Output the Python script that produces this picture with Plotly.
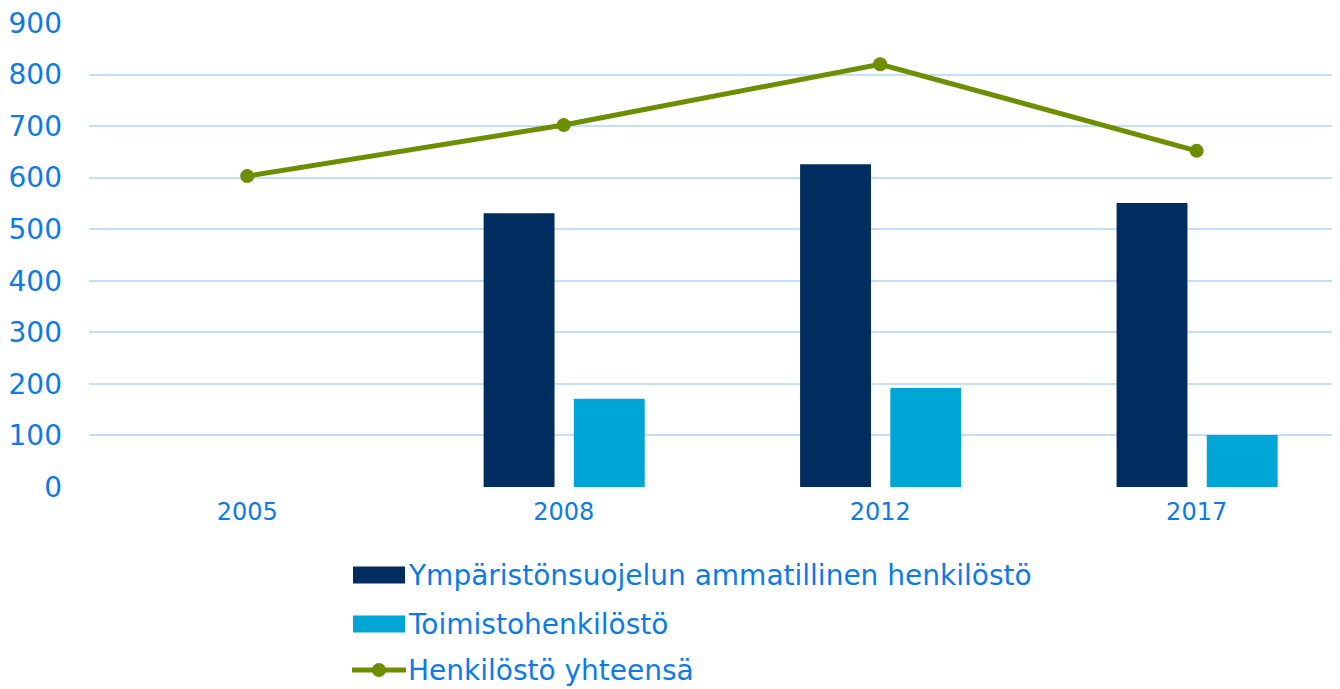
import plotly.graph_objects as go

years = ["2005", "2008", "2012", "2017"]
ammatillinen = [None, 531, 626, 551]
toimisto = [None, 171, 192, 101]
yhteensa = [603, 702, 820, 652]
y_ticks = [0, 100, 200, 300, 400, 500, 600, 700, 800, 900]
names = ["Ympäristönsuojelun ammatillinen henkilöstö", "Toimistohenkilöstö", "Henkilöstö yhteensä"]

TXT = "#0B7BEA"
FONT = "DejaVu Sans, Verdana, sans-serif"
C_DARK, C_LIGHT, C_LINE = "#002D5F", "#00A6D6", "#6C8E00"

W, H = 1332, 681
ML, MR, MT, MB = 81, 0, 15, 202
PW, PH = W - ML - MR, H - MT - MB

def px(x):
    return (x - ML) / PW

def py(y):
    return (H - MB - y) / PH

fig = go.Figure()
fig.add_trace(go.Bar(
    x=years, y=ammatillinen, name=names[0],
    marker=dict(color=C_DARK, line=dict(width=0)), width=0.224, offset=-0.253))
fig.add_trace(go.Bar(
    x=years, y=toimisto, name=names[1],
    marker=dict(color=C_LIGHT, line=dict(width=0)), width=0.224, offset=0.032))
fig.add_trace(go.Scatter(
    x=years, y=yhteensa, name=names[2], mode="lines+markers",
    line=dict(color=C_LINE, width=5), marker=dict(size=14, color=C_LINE)))

# custom legend (wide swatches like the original)
shapes = []
annotations = []
rows_y = [567, 616, 662]
for i, (nm, yc) in enumerate(zip(names, rows_y)):
    if i < 2:
        shapes.append(dict(type="rect", xref="paper", yref="paper",
                           x0=px(345), x1=px(397), y0=py(yc - 8.5), y1=py(yc + 8.5),
                           fillcolor=[C_DARK, C_LIGHT][i], line=dict(width=0)))
    else:
        shapes.append(dict(type="line", xref="paper", yref="paper",
                           x0=px(344), x1=px(398), y0=py(yc), y1=py(yc),
                           line=dict(color=C_LINE, width=5)))
        shapes.append(dict(type="circle", xref="paper", yref="paper",
                           x0=px(364), x1=px(378), y0=py(yc + 7), y1=py(yc - 7),
                           fillcolor=C_LINE, line=dict(width=0)))
    annotations.append(dict(text=nm, xref="paper", yref="paper", x=px(399), y=py(yc),
                            xanchor="left", yanchor="middle", showarrow=False,
                            borderpad=0,
                            font=dict(size=28, color=TXT, family=FONT)))

fig.update_layout(
    width=W, height=H,
    margin=dict(l=ML, r=MR, t=MT, b=MB),
    paper_bgcolor="white", plot_bgcolor="white",
    font=dict(family=FONT, color=TXT),
    showlegend=False,
    shapes=shapes, annotations=annotations,
    xaxis=dict(
        range=[-0.5, 3.453], showgrid=False, showline=False, zeroline=False,
        tickfont=dict(size=24, color=TXT), ticks="", ticklabelstandoff=8),
    yaxis=dict(
        range=[0, 900], tickvals=y_ticks, showgrid=True, gridcolor="#C6DFF8",
        gridwidth=2, zeroline=False, showline=False, ticklabeloverflow="allow",
        tickfont=dict(size=28, color=TXT), ticks="", ticklabelstandoff=26),
)

fig.write_html("out.html")
